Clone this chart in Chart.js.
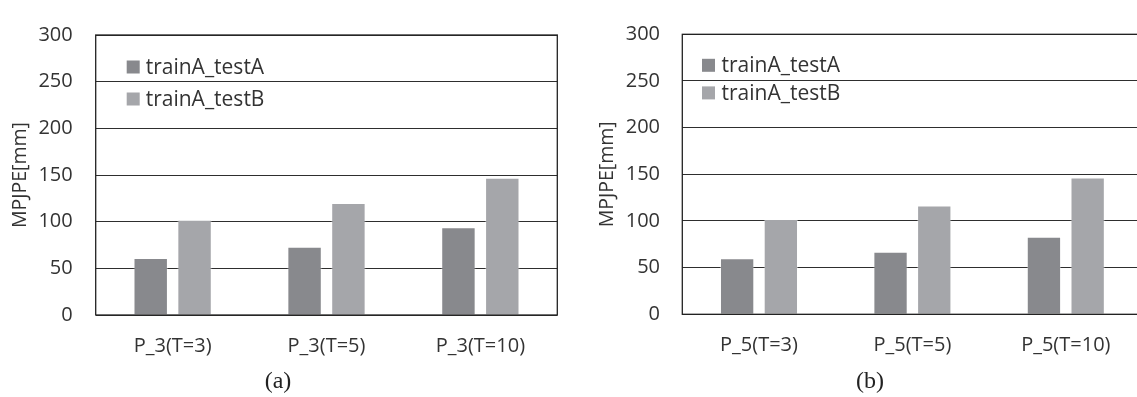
<!DOCTYPE html>
<html>
<head>
<meta charset="utf-8">
<title>MPJPE comparison</title>
<script src="https://cdn.jsdelivr.net/npm/chart.js@4.4.1/dist/chart.umd.min.js"></script>
<style>
  html, body { margin: 0; padding: 0; background: #fff; overflow: hidden; width: 1137px; height: 397px; }
  canvas { position: absolute; top: 0; }
  #chartA { left: 0; }
  #chartB { left: 580px; }
  .cap { position: absolute; top: 366px; font-family: "Liberation Serif", "DejaVu Serif", serif; font-size: 24px; color: #222; transform: translateX(-50%); line-height: 28px; }
</style>
</head>
<body>
<canvas id="chartA" width="580" height="397" style="width:580px;height:397px"></canvas>
<canvas id="chartB" width="600" height="397" style="width:600px;height:397px"></canvas>
<div class="cap" style="left:278px">(a)</div>
<div class="cap" style="left:870px">(b)</div>
<script>
// Series names and colours
const seriesNames = ['trainA_testA', 'trainA_testB'];
const seriesColors = ['#88898d', '#a5a6aa'];

// Categories for each panel
const categoriesP3 = ['P_3(T=3)', 'P_3(T=5)', 'P_3(T=10)'];
const categoriesP5 = ['P_5(T=3)', 'P_5(T=5)', 'P_5(T=10)'];

// MPJPE values in mm
const p3TestA = [61, 73, 94];
const p3TestB = [102, 120, 147];
const p5TestA = [60, 67, 83];
const p5TestB = [102, 116.5, 146.5];

// Value axis ticks
const yTicks = [0, 50, 100, 150, 200, 250, 300];
const yTitle = 'MPJPE[mm]';

const FONT = '"Open Sans", "Noto Sans", sans-serif';
const TEXT = '#333';
const CANVAS_H = 397;

// Outline around the plot area
const framePlugin = {
  id: 'frame',
  afterDraw(chart) {
    const { ctx, chartArea: a } = chart;
    ctx.save();
    ctx.strokeStyle = '#222';
    ctx.lineWidth = 1.3;
    ctx.strokeRect(a.left, a.top, a.right - a.left, a.bottom - a.top);
    ctx.restore();
  }
};

// Legend drawn inside the plot area, one row per dataset
const insideLegendPlugin = {
  id: 'insideLegend',
  afterDraw(chart, args, opts) {
    const { ctx, chartArea: a } = chart;
    ctx.save();
    ctx.font = `${opts.fontSize}px ${FONT}`;
    ctx.textBaseline = 'middle';
    ctx.textAlign = 'left';
    chart.data.datasets.forEach((ds, i) => {
      const cy = a.top + opts.y + i * opts.gap;
      const bx = a.left + opts.x;
      ctx.fillStyle = ds.backgroundColor;
      ctx.fillRect(bx, cy - opts.box / 2, opts.box, opts.box);
      ctx.fillStyle = TEXT;
      ctx.fillText(ds.label, bx + opts.box + opts.textGap, cy + 1);
    });
    ctx.restore();
  }
};

function makeChart(id, labels, seriesA, seriesB, geo) {
  return new Chart(document.getElementById(id), {
    type: 'bar',
    data: {
      labels: labels,
      datasets: [seriesA, seriesB].map((values, i) => ({
        label: seriesNames[i],
        data: values,
        backgroundColor: seriesColors[i],
        borderColor: 'rgba(255,255,255,0.35)',
        borderWidth: 1,
        categoryPercentage: 0.57,
        barPercentage: 0.785
      }))
    },
    options: {
      responsive: false,
      animation: false,
      layout: { padding: { left: 0, top: geo.top, right: geo.right, bottom: 0 } },
      plugins: {
        legend: { display: false },
        tooltip: { enabled: false },
        insideLegend: geo.legend
      },
      scales: {
        x: {
          grid: { display: false, drawTicks: false },
          border: { display: false },
          ticks: { color: TEXT, font: { family: FONT, size: 20 }, padding: geo.xPad, maxRotation: 0 },
          afterFit(s) { s.height = CANVAS_H - geo.bottom; }
        },
        y: {
          min: yTicks[0],
          max: yTicks[yTicks.length - 1],
          ticks: {
            stepSize: yTicks[1] - yTicks[0],
            color: TEXT,
            font: { family: FONT, size: 20 },
            padding: geo.yPad
          },
          grid: { color: '#2e2e2e', lineWidth: 1, drawTicks: false },
          border: { display: false },
          title: {
            display: true,
            text: yTitle,
            color: TEXT,
            font: { family: FONT, size: 19.5, lineHeight: 1 },
            padding: { top: geo.titleOffset, bottom: 0 }
          },
          afterFit(s) { s.width = geo.left; }
        }
      }
    },
    plugins: [framePlugin, insideLegendPlugin]
  });
}

makeChart('chartA', categoriesP3, p3TestA, p3TestB, {
  left: 95.7, right: 22.7, top: 28, bottom: 315,
  xPad: 19, yPad: 23, titleOffset: 10.75,
  legend: { x: 31, y: 32, gap: 32, box: 13, textGap: 6, fontSize: 21 }
});

makeChart('chartB', categoriesP5, p5TestA, p5TestB, {
  left: 102.3, right: 37.5, top: 20.7, bottom: 314.3,
  xPad: 19, yPad: 22.3, titleOffset: 17.25,
  legend: { x: 19.7, y: 31, gap: 27.6, box: 13, textGap: 6.5, fontSize: 21 }
});
</script>
</body>
</html>
